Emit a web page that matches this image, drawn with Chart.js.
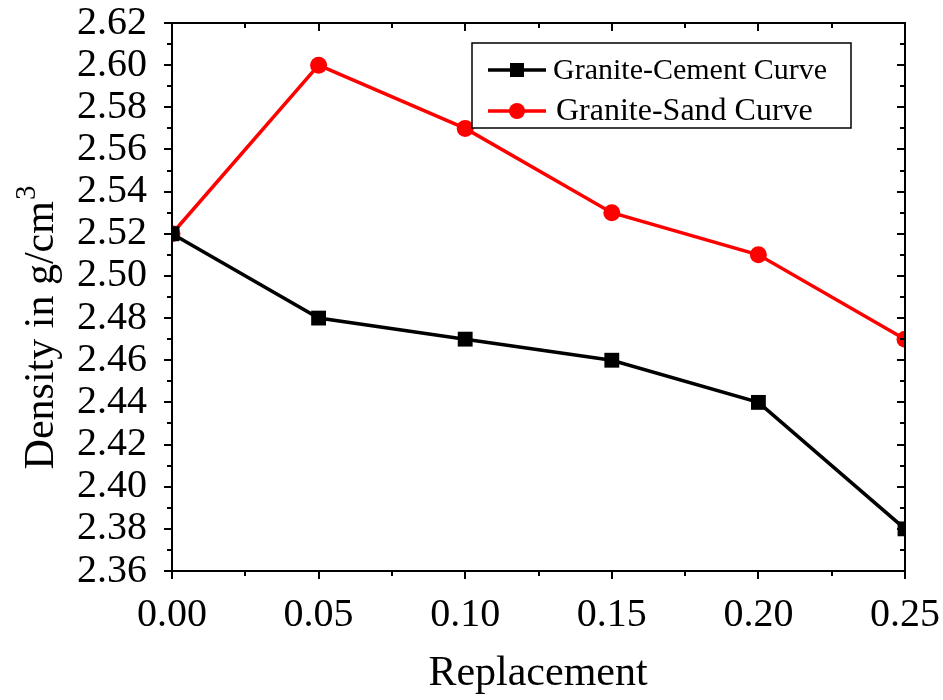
<!DOCTYPE html>
<html>
<head>
<meta charset="utf-8">
<script src="https://cdn.jsdelivr.net/npm/chart.js@4"></script>
<style>
  html, body { margin: 0; padding: 0; background: #fff; }
  #wrap { width: 943px; height: 700px; }
</style>
</head>
<body>
<div id="wrap"><canvas id="chart" width="943" height="700"></canvas></div>
<script>
// Datos
const replacement = [0.00, 0.05, 0.10, 0.15, 0.20, 0.25];
const cementDensity = [2.52, 2.48, 2.47, 2.46, 2.44, 2.38];
const sandDensity = [2.52, 2.60, 2.57, 2.53, 2.51, 2.47];
const yTickValues = [2.36, 2.38, 2.40, 2.42, 2.44, 2.46, 2.48, 2.50, 2.52, 2.54, 2.56, 2.58, 2.60, 2.62];
const seriesNames = ['Granite-Cement Curve', 'Granite-Sand Curve'];
const xTitle = 'Replacement';
const yTitle = 'Density in g/cm';

const FONT = '"Liberation Serif", "Times New Roman", serif';

// Ticks menores, marco, leyenda y títulos
const framePlugin = {
    id: 'frame',
    afterDatasetsDraw(chart) {
        const ctx = chart.ctx;
        const a = chart.chartArea;
        const xs = chart.scales.x, ys = chart.scales.y;
        ctx.save();
        ctx.strokeStyle = '#000';
        ctx.lineWidth = 2;
        ctx.strokeRect(a.left, a.top, a.right - a.left, a.bottom - a.top);

        // ticks eje x (mayores y menores)
        for (let i = 0; i <= 10; i++) {
            const px = Math.round(xs.getPixelForValue(i * 0.025));
            const len = i % 2 === 0 ? 8 : 5;
            ctx.beginPath();
            ctx.moveTo(px, a.bottom);
            ctx.lineTo(px, a.bottom + len);
            ctx.moveTo(px, a.top);
            ctx.lineTo(px, a.top + len);
            ctx.stroke();
        }
        // ticks eje y
        for (let i = 0; i <= 26; i++) {
            const py = Math.round(ys.getPixelForValue(2.36 + i * 0.01));
            const len = i % 2 === 0 ? 8 : 5;
            ctx.beginPath();
            ctx.moveTo(a.left - len, py);
            ctx.lineTo(a.left, py);
            ctx.moveTo(a.right, py);
            ctx.lineTo(a.right - len, py);
            ctx.stroke();
        }

        // leyenda
        const lx = 472, ly = 43, lw = 379, lh = 85;
        ctx.fillStyle = '#fff';
        ctx.fillRect(lx, ly, lw, lh);
        ctx.lineWidth = 1.5;
        ctx.strokeRect(lx, ly, lw, lh);
        const rows = [70, 111];
        chart.data.datasets.forEach((ds, i) => {
            const y = rows[i];
            ctx.strokeStyle = ds.borderColor;
            ctx.lineWidth = 3.5;
            ctx.beginPath();
            ctx.moveTo(488, y);
            ctx.lineTo(546, y);
            ctx.stroke();
            ctx.fillStyle = ds.backgroundColor;
            if (ds.pointStyle === 'rect') {
                ctx.fillRect(517 - 7, y - 7, 14, 14);
            } else {
                ctx.beginPath();
                ctx.arc(517, y, 8, 0, Math.PI * 2);
                ctx.fill();
            }
            ctx.fillStyle = '#000';
            ctx.font = (i === 0 ? '30px ' : '32px ') + FONT;
            ctx.textAlign = 'left';
            ctx.textBaseline = 'middle';
            ctx.fillText(ds.label, i === 0 ? 553 : 556, y + 1);
        });

        // títulos de ejes
        ctx.fillStyle = '#000';
        ctx.font = '42px ' + FONT;
        ctx.textAlign = 'center';
        ctx.textBaseline = 'middle';
        ctx.fillText(xTitle, 538, 674);

        ctx.translate(42, 328);
        ctx.rotate(-Math.PI / 2);
        ctx.font = '42px ' + FONT;
        const w1 = ctx.measureText(yTitle).width;
        ctx.font = '29px ' + FONT;
        const w2 = ctx.measureText('3').width;
        const start = -(w1 + w2) / 2;
        ctx.textAlign = 'left';
        ctx.font = '42px ' + FONT;
        ctx.fillText(yTitle, start, 0);
        ctx.font = '29px ' + FONT;
        ctx.fillText('3', start + w1 + 1, -15);
        ctx.restore();
    }
};

const ctx = document.getElementById('chart').getContext('2d');
const chart = new Chart(ctx, {
    type: 'line',
    data: {
        datasets: [
            {
                label: seriesNames[0],
                data: replacement.map((x, i) => ({ x: x, y: cementDensity[i] })),
                borderColor: '#000',
                backgroundColor: '#000',
                borderWidth: 3.5,
                pointStyle: 'rect',
                pointRadius: 10.5,
                pointBorderWidth: 0,
                clip: 0,
                tension: 0
            },
            {
                label: seriesNames[1],
                data: replacement.map((x, i) => ({ x: x, y: sandDensity[i] })),
                borderColor: '#ff0000',
                backgroundColor: '#ff0000',
                borderWidth: 3.5,
                pointStyle: 'circle',
                pointRadius: 8.5,
                pointBorderWidth: 0,
                clip: 0,
                tension: 0
            }
        ]
    },
    options: {
        responsive: false,
        animation: false,
        layout: { padding: { left: 0, right: 38, top: 23, bottom: 0 } },
        plugins: { legend: { display: false }, tooltip: { enabled: false } },
        scales: {
            x: {
                type: 'linear',
                min: 0,
                max: 0.25,
                afterFit: s => { s.height = 129; s.paddingLeft = 0; s.paddingRight = 0; },
                afterBuildTicks: s => { s.ticks = replacement.map(v => ({ value: v })); },
                grid: { display: false },
                border: { display: false },
                ticks: {
                    color: '#000',
                    font: { family: FONT, size: 40 },
                    padding: 12,
                    autoSkip: false,
                    maxRotation: 0,
                    callback: v => Number(v).toFixed(2)
                }
            },
            y: {
                type: 'linear',
                min: 2.36,
                max: 2.62,
                afterFit: s => { s.width = 172; s.paddingTop = 0; s.paddingBottom = 0; },
                afterBuildTicks: s => { s.ticks = yTickValues.map(v => ({ value: v })); },
                grid: { display: false },
                border: { display: false },
                ticks: {
                    color: '#000',
                    font: { family: FONT, size: 40 },
                    padding: 17,
                    autoSkip: false,
                    callback: v => Number(v).toFixed(2)
                }
            }
        }
    },
    plugins: [framePlugin]
});
</script>
</body>
</html>
